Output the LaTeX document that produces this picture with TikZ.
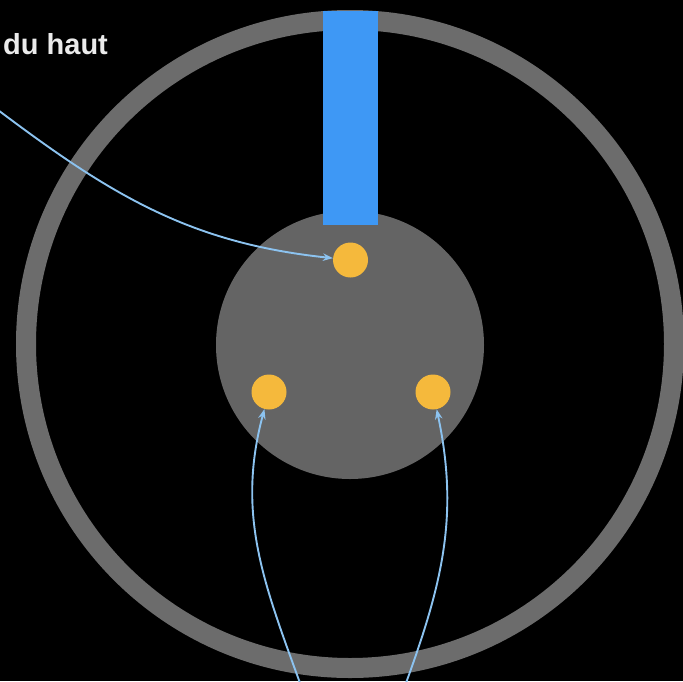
\documentclass[tikz,border=0pt]{standalone}
\usepackage{fontspec}
\setmainfont{Liberation Sans}
\usetikzlibrary{arrows.meta}
\definecolor{ringgray}{RGB}{108,108,108}
\definecolor{diskgray}{RGB}{100,100,100}
\definecolor{barblue}{RGB}{62,152,245}
\definecolor{dotyellow}{RGB}{245,185,60}
\definecolor{arrowblue}{RGB}{140,195,240}
\definecolor{txtwhite}{RGB}{235,235,235}
\begin{document}
\begin{tikzpicture}[x=1pt,y=1pt,
  dot/.style={circle,fill=dotyellow,minimum size=35pt,inner sep=0pt},
  link/.style={draw=arrowblue,line width=1.9pt,-{Stealth[length=10pt,width=7.5pt]}},
  lbl/.style={text=txtwhite,font=\fontsize{29}{34}\selectfont\bfseries,inner sep=0pt}]
\fill[black] (0,0) rectangle (683,-681);
\useasboundingbox (0,0) rectangle (683,-681);
\draw[ringgray,line width=20pt] (350,-344) circle[radius=324];
\fill[diskgray] (350,-345) circle[radius=134];
\node (bar) [fill=barblue,minimum width=55pt,minimum height=214pt,inner sep=0pt,anchor=north] at (350.5,-11) {};
\node[dot] (dt) at (350.5,-260) {};
\node[dot] (dl) at (269,-392) {};
\node[dot] (dr) at (433,-392) {};
\node[lbl,anchor=base west] (txt) at (3,-54) {du haut};
\coordinate (st) at (-2,-110);
\coordinate (sl) at (300,-683);
\coordinate (sr) at (406,-683);
\draw[link] (st) to[out=-37,in=174] (dt);
\draw[link] (sl) to[out=110,in=-105] (dl);
\draw[link] (sr) to[out=70,in=-78] (dr);
\end{tikzpicture}
\end{document}
